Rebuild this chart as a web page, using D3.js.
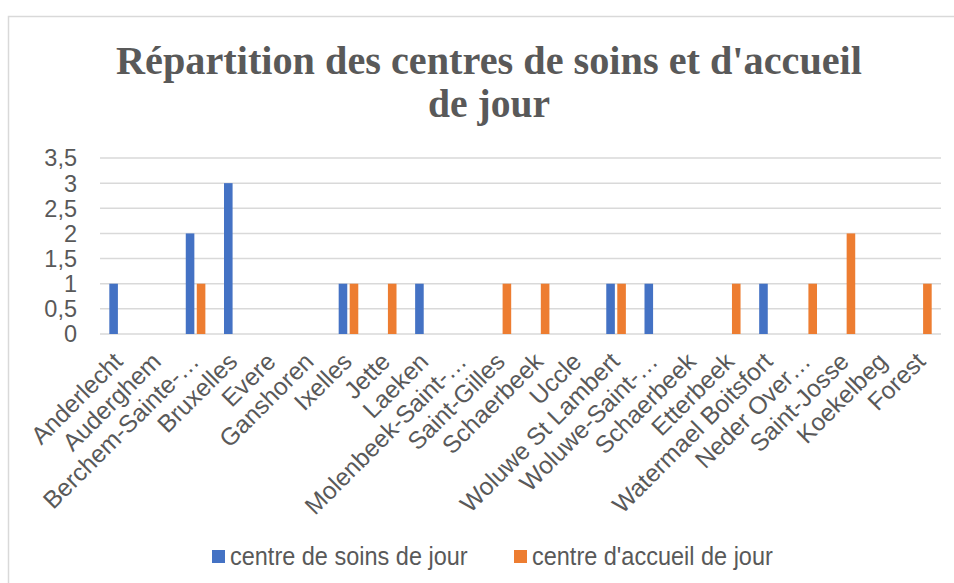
<!DOCTYPE html>
<html lang="fr">
<head>
  <meta charset="UTF-8" />
  <title>Répartition des centres de soins et d'accueil de jour</title>
  <script src="https://d3js.org/d3.v7.min.js"></script>
  <style>
    body {
      margin: 0;
      padding: 0;
      background: white;
      overflow: hidden;
    }
    text {
      font-family: "Liberation Sans", Arial, sans-serif;
      fill: #595959;
    }
  </style>
</head>
<body>
  <div id="chart"></div>
  <script>
    const communes = [
      "Anderlecht", "Auderghem", "Berchem-Sainte-…", "Bruxelles", "Evere",
      "Ganshoren", "Ixelles", "Jette", "Laeken", "Molenbeek-Saint-…",
      "Saint-Gilles", "Schaerbeek", "Uccle", "Woluwe St Lambert", "Woluwe-Saint-…",
      "Schaerbeek", "Etterbeek", "Watermael Boitsfort", "Neder Over…", "Saint-Josse",
      "Koekelbeg", "Forest"
    ];
    const seriesNames = ["centre de soins de jour", "centre d'accueil de jour"];
    const soinsValues   = [1, 0, 2, 3, 0, 0, 1, 0, 1, 0, 0, 0, 0, 1, 1, 0, 0, 1, 0, 0, 0, 0];
    const accueilValues = [0, 0, 1, 0, 0, 0, 1, 1, 0, 0, 1, 1, 0, 1, 0, 0, 1, 0, 1, 2, 0, 1];
    const yTicks = [0, 0.5, 1, 1.5, 2, 2.5, 3, 3.5];
    const colors = ["#4472C4", "#ED7D31"];

    const width = 954, height = 583;
    const plot = { left: 100, right: 941, top: 158, bottom: 334 };

    const svg = d3.select("#chart").append("svg")
      .attr("width", width)
      .attr("height", height);

    // chart frame
    svg.append("rect")
      .attr("x", 8.5).attr("y", 16.5)
      .attr("width", 960).attr("height", 600)
      .attr("fill", "white")
      .attr("stroke", "#D9D9D9")
      .attr("stroke-width", 1.5);

    // title
    const title = svg.append("text")
      .attr("text-anchor", "middle")
      .style("font-family", "'Liberation Serif', 'DejaVu Serif', serif")
      .style("font-weight", "bold")
      .style("font-size", "41px");
    title.append("tspan")
      .attr("x", 489).attr("y", 74)
      .attr("textLength", 746)
      .attr("lengthAdjust", "spacingAndGlyphs")
      .text("Répartition des centres de soins et d'accueil");
    title.append("tspan")
      .attr("x", 489).attr("y", 117)
      .attr("textLength", 122)
      .attr("lengthAdjust", "spacingAndGlyphs")
      .text("de jour");

    const x0 = d3.scaleBand()
      .domain(d3.range(communes.length))
      .range([plot.left, plot.right]);

    const y = d3.scaleLinear()
      .domain([0, 3.5])
      .range([plot.bottom, plot.top]);

    // gridlines
    svg.append("g")
      .selectAll("line")
      .data(yTicks)
      .join("line")
      .attr("x1", plot.left)
      .attr("x2", plot.right)
      .attr("y1", d => y(d))
      .attr("y2", d => y(d))
      .attr("stroke", "#D9D9D9")
      .attr("stroke-width", 1.5);

    // y axis labels
    const fmt = d => String(d).replace(".", ",");
    svg.append("g")
      .selectAll("text")
      .data(yTicks)
      .join("text")
      .attr("x", 77)
      .attr("y", d => y(d))
      .attr("dy", "0.36em")
      .attr("text-anchor", "end")
      .style("font-size", "23.5px")
      .text(fmt);

    // bars
    const data = communes.map((c, i) => ({ i, values: [soinsValues[i], accueilValues[i]] }));
    const groups = svg.append("g")
      .selectAll("g")
      .data(data)
      .join("g")
      .attr("transform", d => `translate(${x0(d.i) + x0.bandwidth() / 2},0)`);

    const x1 = d3.scaleBand()
      .domain([0, 1])
      .range([-9.8, 9.8])
      .paddingInner(0.22);

    groups.selectAll("rect")
      .data(d => d.values.map((v, s) => ({ s, v })))
      .join("rect")
      .attr("x", d => x1(d.s))
      .attr("width", x1.bandwidth())
      .attr("y", d => y(d.v))
      .attr("height", d => y(0) - y(d.v))
      .attr("fill", d => colors[d.s]);

    // x labels
    svg.append("g")
      .selectAll("text")
      .data(communes)
      .join("text")
      .attr("transform", (d, i) => `translate(${x0(i) + x0.bandwidth() / 2 + 5},363) rotate(-45)`)
      .attr("text-anchor", "end")
      .style("font-size", "24.5px")
      .text(d => d);

    // legend
    const legendX = [212, 514];
    const legend = svg.append("g")
      .selectAll("g")
      .data(seriesNames)
      .join("g")
      .attr("transform", (d, i) => `translate(${legendX[i]},550)`);
    legend.append("rect")
      .attr("width", 13)
      .attr("height", 13)
      .attr("fill", (d, i) => colors[i]);
    legend.append("text")
      .attr("transform", "translate(18,15) scale(1,1.12)")
      .style("font-size", "23.5px")
      .text(d => d);
  </script>
</body>
</html>
